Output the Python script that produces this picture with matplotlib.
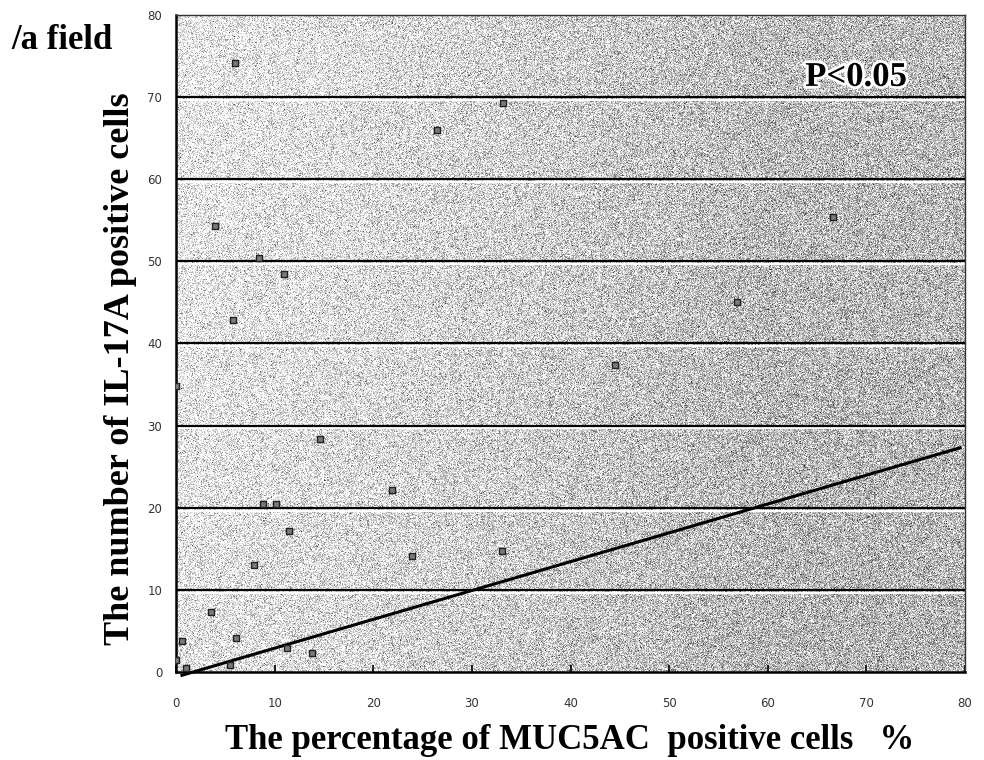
import numpy as np
import matplotlib
matplotlib.use("Agg")
import matplotlib.pyplot as plt
import matplotlib.patheffects as pe

# MUC5AC positive cells (%) vs IL-17A positive cells per field
muc5ac_pct = [6.0, 26.5, 4.0, 33.2, 66.6, 56.9, 44.5, 8.4, 10.9, 5.8,
              14.6, 21.9, 8.8, 10.1, 11.5, 7.9, 23.9, 33.1, 3.5, 0.6,
              6.1, 13.8, 11.3, 5.5, 1.0, 0.0, 0.0]
il17a_cells = [74.2, 66.0, 54.3, 69.3, 55.4, 45.1, 37.4, 50.4, 48.5, 42.8,
               28.4, 22.2, 20.5, 20.5, 17.2, 13.0, 14.1, 14.7, 7.3, 3.8,
               4.1, 2.3, 2.9, 0.9, 0.5, 1.4, 34.8]

# regression line end points
fit_x = [0.6, 79.5]
fit_y = [-0.4, 27.3]

x_ticks = [0, 10, 20, 30, 40, 50, 60, 70, 80]
y_ticks = [0, 10, 20, 30, 40, 50, 60, 70, 80]

fig = plt.figure(figsize=(9.84, 7.6), dpi=100)
ax = fig.add_axes([0.1789, 0.1158, 0.8018, 0.8645])

# halftone-like gray background, darker towards the right
h, w = 660, 790
gx = np.linspace(0, 1, w)[None, :]
gy = np.linspace(0, 1, h)[:, None]
base = 0.94 - 0.2 * np.clip(gx / 0.75, 0, 1) ** 1.2 - 0.03 * gy
rng = np.random.default_rng(3)
tex = base + rng.normal(0, 0.18, (h, w))
tex = np.clip(tex, 0.2, 1.0)
ax.imshow(tex, cmap="gray", vmin=0, vmax=1, extent=[0, 80, 0, 80],
          aspect="auto", origin="upper", zorder=0, interpolation="nearest")

# horizontal grid lines: black line with white line just below
for yv in y_ticks[1:-1]:
    ax.axhline(yv - 0.35, color="white", lw=1.6, zorder=1)
    ax.axhline(yv, color="black", lw=1.6, zorder=2)

ax.plot(fit_x, fit_y, color="black", lw=2.2, zorder=3, clip_on=False)
ax.scatter(muc5ac_pct, il17a_cells, marker="s", s=24, facecolor="#7a7a7a",
           edgecolor="#222222", linewidth=1.0, zorder=4)

ax.set_xlim(0, 80)
ax.set_ylim(0, 80)
ax.set_xticks(x_ticks)
ax.set_yticks(y_ticks)
ax.tick_params(axis="x", direction="in", length=5, width=1.2, pad=18,
               labelsize=8.5, labelcolor="#333333")
ax.tick_params(axis="y", direction="in", length=0, pad=10,
               labelsize=8.5, labelcolor="#333333")
for side in ["left", "bottom"]:
    ax.spines[side].set_linewidth(1.8)
for side in ["top", "right"]:
    ax.spines[side].set_linewidth(1.0)
    ax.spines[side].set_color("#333333")

serif = ["Liberation Serif", "DejaVu Serif"]
ax.text(0.862, 0.905, "P<0.05", transform=ax.transAxes, ha="center",
        va="center", fontsize=25, fontweight="bold", family=serif,
        color="black", zorder=5,
        path_effects=[pe.withStroke(linewidth=4, foreground="white")])

fig.text(0.579, 0.026, "The percentage of MUC5AC  positive cells   %",
         ha="center", va="center", fontsize=25, fontweight="bold",
         family=serif)
fig.text(0.122, 0.515, "The number of IL-17A positive cells", rotation=90,
         ha="center", va="center", fontsize=26, fontweight="bold",
         family=serif)
fig.text(0.012, 0.947, "/a field", ha="left", va="center", fontsize=25,
         fontweight="bold", family=serif)

fig.savefig("out.png", dpi=100)
